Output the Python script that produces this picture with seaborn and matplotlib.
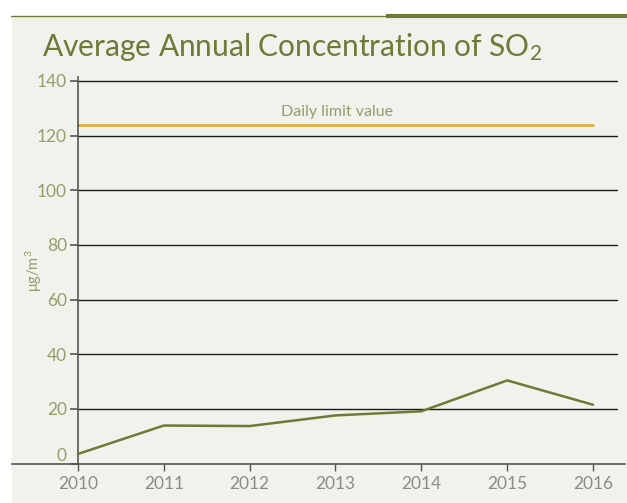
import matplotlib
matplotlib.use("Agg")
import matplotlib.pyplot as plt
import matplotlib.transforms as mtransforms
from matplotlib.patches import Rectangle
from matplotlib.lines import Line2D
import seaborn as sns
import pandas as pd

years = [2010, 2011, 2012, 2013, 2014, 2015, 2016]
so2 = [3.5, 13.9, 13.7, 17.6, 19.1, 30.4, 21.5]
limit_value = 124
limit_label = "Daily limit value"
title = "Average Annual Concentration of SO$_2$"
y_ticks = [0, 20, 40, 60, 80, 100, 120, 140]
y_label = "μg/m$^3$"

sns.set_theme(style="white")
plt.rcParams['font.family'] = ['Lato', 'DejaVu Sans']
plt.rcParams['mathtext.fontset'] = 'custom'
plt.rcParams['mathtext.rm'] = 'Lato'
plt.rcParams['mathtext.it'] = 'Lato'

W, H = 627, 503
fig = plt.figure(figsize=(W / 100, H / 100), dpi=100)
fig.patch.set_facecolor("white")

bg = "#f2f2ed"
olive = "#6d7a38"
# background panel
fig.patches.append(Rectangle((12 / W, 0), 1 - 12 / W, 1 - 16 / H, transform=fig.transFigure,
                             facecolor=bg, edgecolor="none", zorder=-5))
# top rules
fig.lines.append(Line2D([11 / W, 386 / W], [1 - 15.5 / H] * 2, transform=fig.transFigure,
                        color=olive, lw=1.0, zorder=-4))
fig.lines.append(Line2D([386 / W, 1], [1 - 15.5 / H] * 2, transform=fig.transFigure,
                        color=olive, lw=3.0, solid_capstyle="butt", zorder=-4))

# axes placement
x_left_px, x_right_px = 12, 625
y_bot_px, y_top_px = 463.5, 76.8
ax = fig.add_axes([x_left_px / W, 1 - y_bot_px / H, (x_right_px - x_left_px) / W,
                   (y_bot_px - y_top_px) / H])
ax.set_zorder(1)
ax.set_facecolor("none")
px_per_year = (593 - 78) / 6
ax.set_xlim(2010 - (78 - 12) / px_per_year, 2016 + (625 - 593) / px_per_year)
ax.set_ylim(0, 141.5)

grid_right = 2016 + (617 - 593) / px_per_year
for t in y_ticks[1:]:
    ax.plot([2010, grid_right], [t, t], color="#1a1a1a", lw=1.0, zorder=1)

ax.plot([2010, 2016], [limit_value, limit_value], color="#e0ae3c", lw=2.0, zorder=2)
ax.text(2013.02, limit_value + 2.2, limit_label, color="#959d6e", fontsize=11.5,
        ha="center", va="bottom")

df = pd.DataFrame({"year": years, "so2": so2})
sns.lineplot(data=df, x="year", y="so2", ax=ax, color=olive, lw=1.8, zorder=3)

for s in ["top", "right"]:
    ax.spines[s].set_visible(False)
ax.spines["bottom"].set_color("#555555")
ax.spines["bottom"].set_linewidth(1.2)
ax.spines["left"].set_position(("data", 2010))
ax.spines["left"].set_color("#555555")
ax.spines["left"].set_linewidth(1.2)

ax.set_xticks(years)
ax.set_xticklabels([str(y) for y in years])
ax.set_yticks(y_ticks)
ax.set_yticklabels([str(t) for t in y_ticks])
ax.tick_params(axis="x", direction="out", length=5, width=1, color="#555555",
               labelcolor="#8a8a8a", labelsize=12.5, bottom=True, pad=4)
ax.tick_params(axis="y", direction="out", length=6, width=1.2, color="#555555",
               labelcolor="#959d6e", labelsize=12.5, left=True, pad=2)
ax.set_xlabel("")
ax.set_ylabel("")
# shift the "0" label up
lbl0 = ax.get_yticklabels()[0]
lbl0.set_transform(lbl0.get_transform() + mtransforms.ScaledTranslation(0, 9 / 100, fig.dpi_scale_trans))

fig.text(24 / W, 1 - 271 / H, y_label, rotation=90, color="#959d6e", fontsize=10.5,
         ha="left", va="center")

fig.text(42 / W, 1 - 56 / H, title, color=olive, fontsize=21.5, ha="left", va="baseline")

fig.savefig("out.png", dpi=100, facecolor=fig.get_facecolor())
